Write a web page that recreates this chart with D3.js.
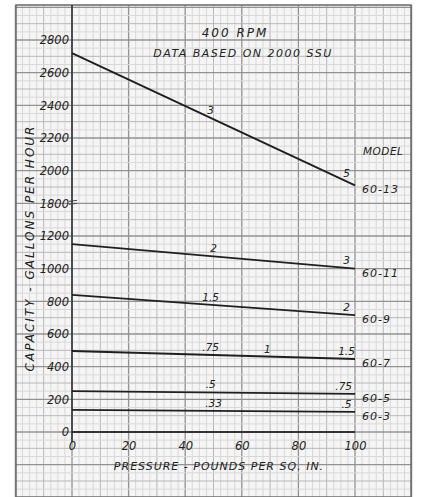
<!DOCTYPE html>
<html>
<head>
<meta charset="utf-8">
<script src="https://cdn.jsdelivr.net/npm/d3@7"></script>
<style>
  body { margin: 0; background: #fff; }
  svg text { font-family: "DejaVu Sans", sans-serif; font-style: italic; fill: #222; }
</style>
</head>
<body>
<div id="chart"></div>
<script>
// pressure (psi) at the two ends of each curve
const pressure = [0, 100]

// capacity, gallons per hour
const models = ['60-13', '60-11', '60-9', '60-7', '60-5', '60-3']
const capacity = [
    [2720, 1910],
    [1150, 1000],
    [840, 715],
    [496, 447],
    [250, 234],
    [135, 123]
]

// little numbers written along each curve and where they sit (psi)
const hpText = [['3', '5'], ['2', '3'], ['1.5', '2'], ['.75', '1', '1.5'], ['.5', '.75'], ['.33', '.5']]
const hpAt = [[49, 97], [50, 97], [49, 97], [49, 69, 97], [49, 96], [50, 97]]

const xTicks = [0, 20, 40, 60, 80, 100]
const yTicks = [0, 200, 400, 600, 800, 1000, 1200, 1800, 2000, 2200, 2400, 2600, 2800]

const W = 422, H = 497

const svg = d3.select('#chart').append('svg')
    .attr('width', W)
    .attr('height', H)

const xScale = d3.scaleLinear().domain([0, 100]).range([72, 355])
// axis is broken between 1200 and 1800: one tick slot each 200
const slot = d3.scaleLinear().domain([0, 12]).range([432, 40])
const yScale = d3.scaleLinear()
    .domain([0, 1200, 1800, 2800])
    .range([slot(0), slot(6), slot(7), slot(12)])

// graph paper
const paper = { x0: 16, x1: 411, y0: 5, y1: 497 }
svg.append('rect')
    .attr('x', paper.x0).attr('y', paper.y0)
    .attr('width', paper.x1 - paper.x0).attr('height', paper.y1 - paper.y0)
    .attr('fill', '#f5f5f5')

const grid = svg.append('g')
d3.range(-20, 120.01, 2.5).forEach(v => {
    const heavy = v % 20 === 0, mid = v % 10 === 0
    grid.append('line')
        .attr('x1', xScale(v)).attr('x2', xScale(v))
        .attr('y1', paper.y0).attr('y2', paper.y1)
        .attr('stroke', heavy ? '#929292' : mid ? '#b8b8b8' : '#d8d8d8')
        .attr('stroke-width', heavy ? 1.3 : 1)
})
d3.range(-2, 13.01, 0.25).forEach(s => {
    const y = slot(s)
    if (y < paper.y0 || y > paper.y1) return
    const heavy = Math.abs(s - Math.round(s)) < 1e-6
    const mid = Math.abs(s * 2 - Math.round(s * 2)) < 1e-6
    grid.append('line')
        .attr('x1', paper.x0).attr('x2', paper.x1)
        .attr('y1', y).attr('y2', y)
        .attr('stroke', heavy ? '#929292' : mid ? '#b8b8b8' : '#d8d8d8')
        .attr('stroke-width', heavy ? 1.3 : 1)
})

svg.append('rect')
    .attr('x', paper.x0).attr('y', paper.y0)
    .attr('width', paper.x1 - paper.x0).attr('height', paper.y1 - paper.y0)
    .attr('fill', 'none')
    .attr('stroke', '#6a6a6a')
    .attr('stroke-width', 1.5)

// axes lines
svg.append('line')
    .attr('x1', xScale(0)).attr('x2', xScale(0))
    .attr('y1', paper.y0).attr('y2', yScale(0) + 10)
    .attr('stroke', '#333').attr('stroke-width', 1.6)
svg.append('line')
    .attr('x1', xScale(0)).attr('x2', xScale(100))
    .attr('y1', yScale(0)).attr('y2', yScale(0))
    .attr('stroke', '#333').attr('stroke-width', 2.2)

// break mark next to 1800
;[0, 3].forEach(d => {
    svg.append('line')
        .attr('x1', xScale(0) - 3).attr('x2', xScale(0) + 5)
        .attr('y1', slot(7) - 2 + d).attr('y2', slot(7) - 3 + d)
        .attr('stroke', '#444').attr('stroke-width', 1)
})

const yAxis = d3.axisLeft(yScale)
    .tickValues(yTicks)
    .tickSize(0)
    .tickPadding(3)
    .tickFormat(d3.format('d'))

svg.append('g')
    .attr('transform', `translate(${xScale(0)},0)`)
    .call(yAxis)
    .call(g => g.select('.domain').remove())
    .selectAll('text')
    .attr('font-size', 11.5)
    .attr('font-family', 'DejaVu Sans')
    .attr('fill', '#222')

const xAxis = d3.axisBottom(xScale)
    .tickValues(xTicks)
    .tickSize(0)
    .tickPadding(10)

svg.append('g')
    .attr('transform', `translate(0,${yScale(0)})`)
    .call(xAxis)
    .call(g => g.select('.domain').remove())
    .selectAll('text')
    .attr('font-size', 11.5)
    .attr('font-family', 'DejaVu Sans')
    .attr('fill', '#222')

svg.selectAll('.tick text').style('font-style', 'italic')

// curves
const line = d3.line()
    .x((d, i) => xScale(pressure[i]))
    .y(d => yScale(d))

svg.selectAll('.curve')
    .data(capacity)
    .enter().append('path')
    .attr('class', 'curve')
    .attr('d', line)
    .attr('fill', 'none')
    .attr('stroke', '#1f1f1f')
    .attr('stroke-width', 1.8)

// value at pressure p on curve k (straight between the two read ends)
const capAt = (k, p) => d3.scaleLinear().domain(pressure).range(capacity[k])(p)

hpText.forEach((labels, k) => {
    labels.forEach((t, j) => {
        svg.append('text')
            .attr('x', xScale(hpAt[k][j]))
            .attr('y', yScale(capAt(k, hpAt[k][j])) - 4)
            .attr('text-anchor', 'middle')
            .attr('font-size', 10.5)
            .text(t)
    })
})

// model names at the right end
svg.append('text')
    .attr('x', 363).attr('y', 155)
    .attr('font-size', 10.5)
    .attr('letter-spacing', 0.5)
    .text('MODEL')

svg.selectAll('.model')
    .data(models)
    .enter().append('text')
    .attr('class', 'model')
    .attr('x', xScale(100) + 7)
    .attr('y', (d, i) => yScale(capacity[i][1]) + 8)
    .attr('font-size', 11)
    .attr('letter-spacing', 1)
    .text(d => d)

// titles
svg.append('text')
    .attr('x', 235).attr('y', 37)
    .attr('text-anchor', 'middle')
    .attr('font-size', 12)
    .attr('letter-spacing', 2)
    .text('400 RPM')

svg.append('text')
    .attr('x', 243).attr('y', 57)
    .attr('text-anchor', 'middle')
    .attr('font-size', 11)
    .attr('letter-spacing', 1.5)
    .text('DATA BASED ON 2000 SSU')

svg.append('text')
    .attr('transform', 'translate(34,248) rotate(-90)')
    .attr('text-anchor', 'middle')
    .attr('font-size', 12)
    .attr('letter-spacing', 2)
    .text('CAPACITY - GALLONS PER HOUR')

svg.append('text')
    .attr('x', 219).attr('y', 470)
    .attr('text-anchor', 'middle')
    .attr('font-size', 11)
    .attr('letter-spacing', 1)
    .text('PRESSURE - POUNDS PER SQ. IN.')
</script>
</body>
</html>
